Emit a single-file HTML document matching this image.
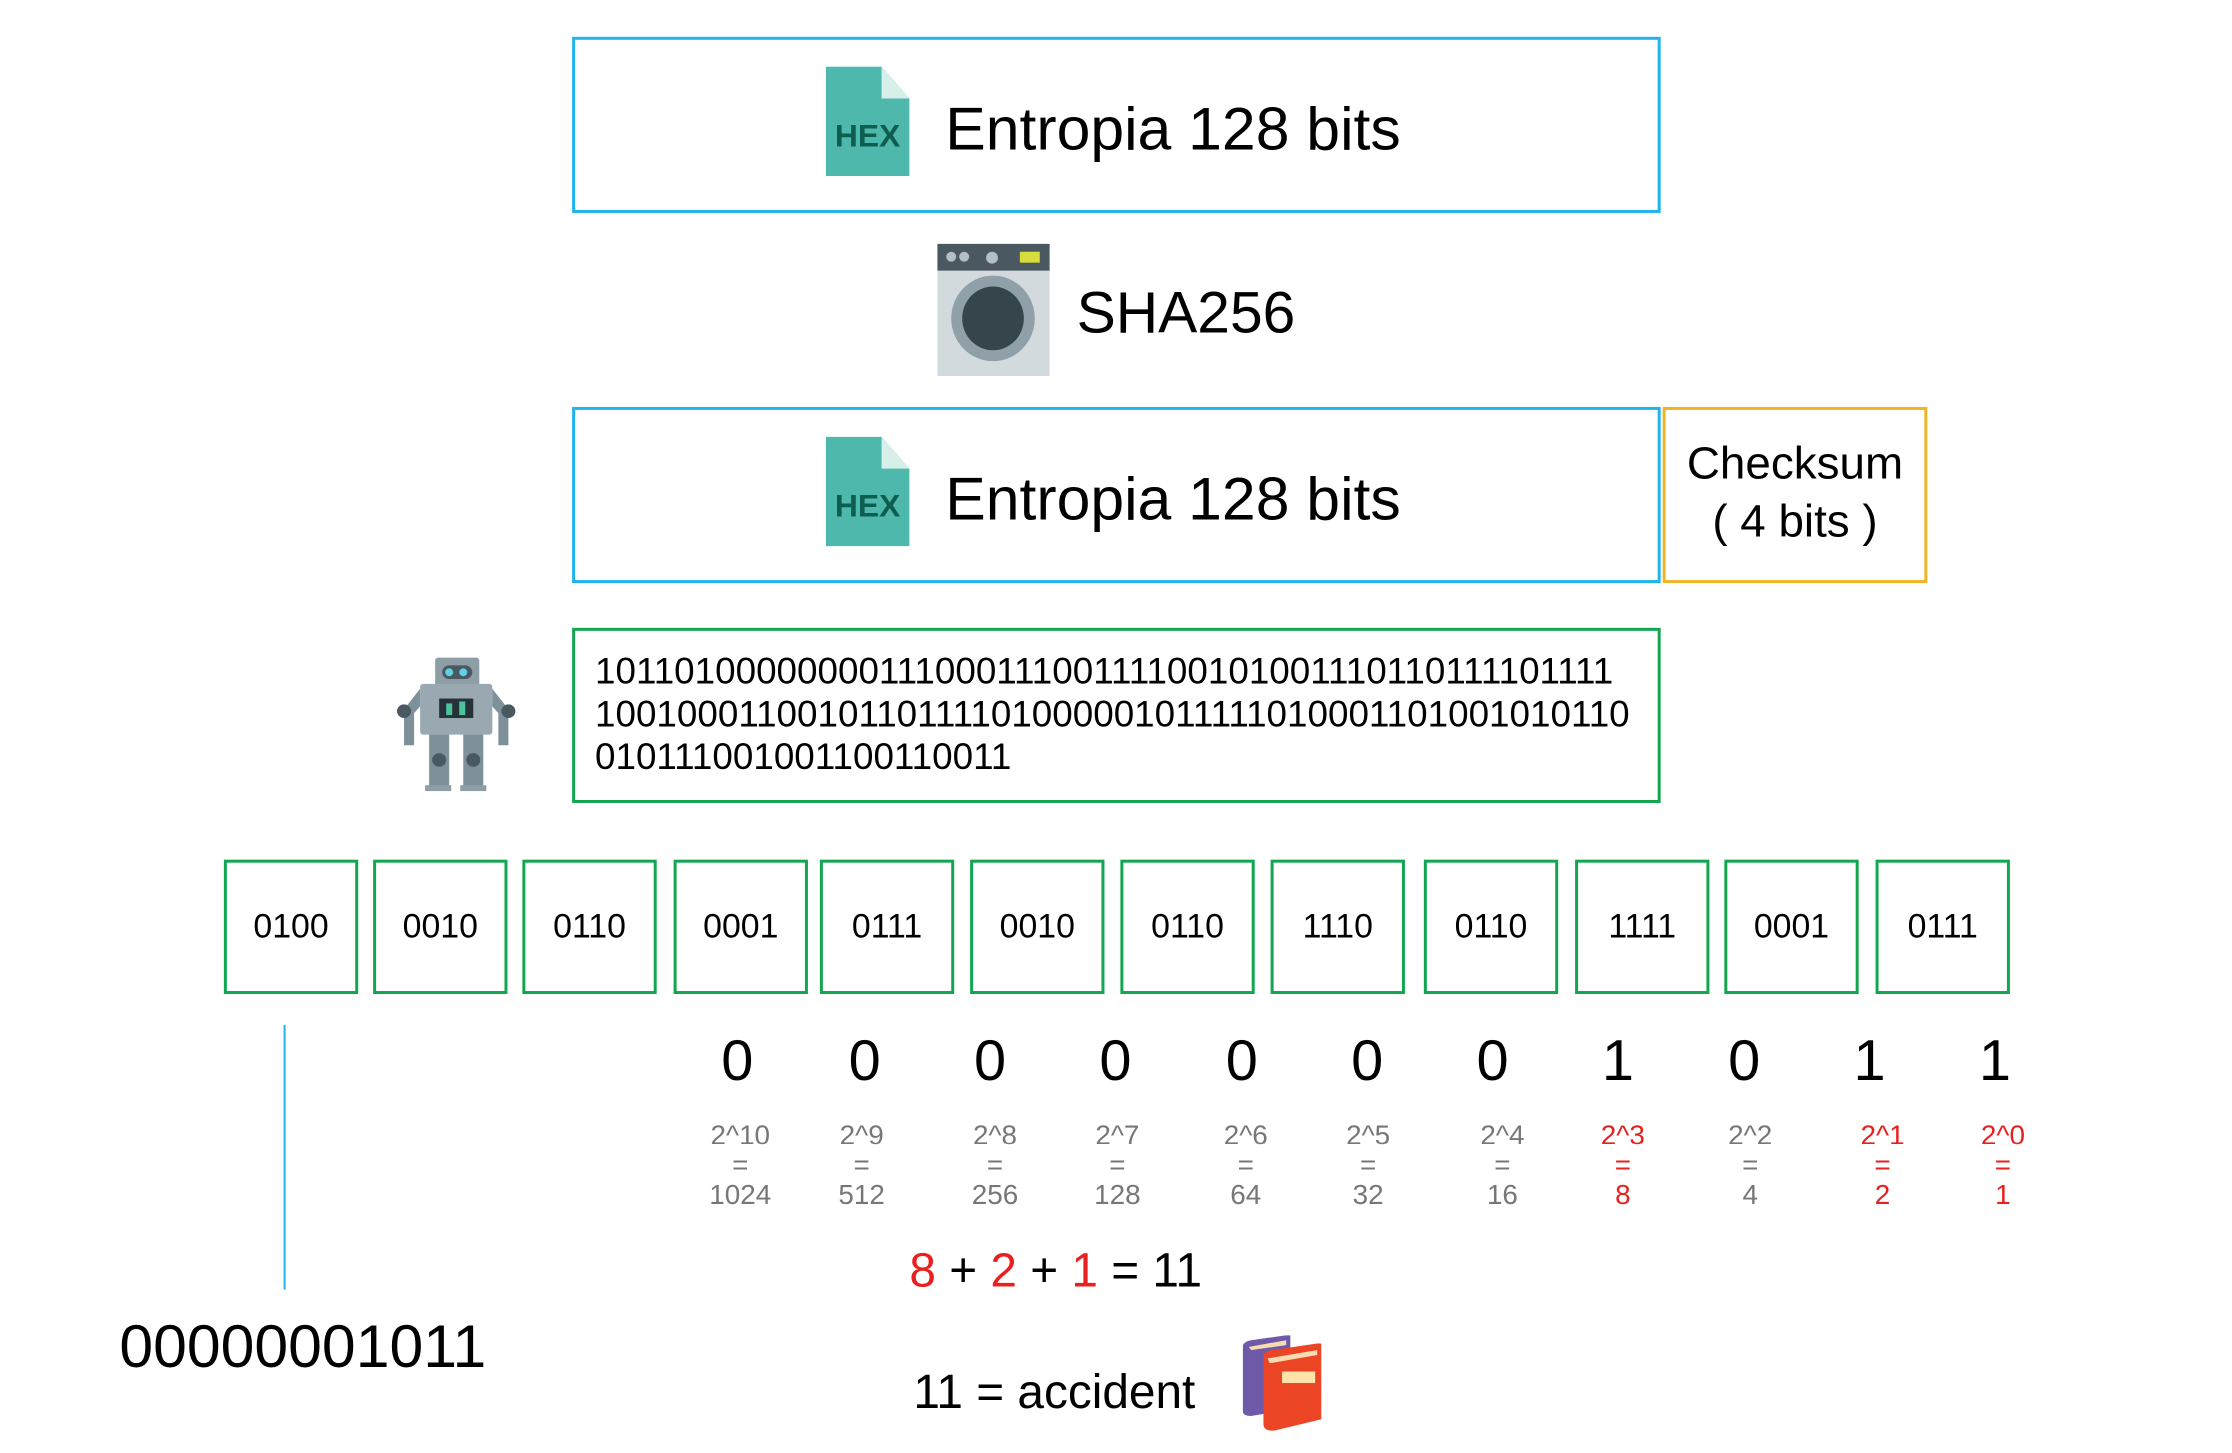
<!DOCTYPE html>
<html><head><meta charset="utf-8"><style>
body{margin:0;width:2232px;height:1453px;background:#fff;position:relative;overflow:hidden;font-family:"Liberation Sans",sans-serif;color:#000}
#w{position:absolute;left:0;top:0;width:2240px;height:1460px;transform:scale(0.995);transform-origin:0 0}
.a{position:absolute}
.box{position:absolute;box-sizing:border-box}
.sb{border:3px solid #1fb4ea;}
.gb{border:3px solid #12a650;}
.c{position:absolute;transform:translate(-50%,-50%);white-space:nowrap}
.nib{position:absolute;top:864px;width:135px;height:135px;box-sizing:border-box;border:3px solid #12a650;display:flex;align-items:center;justify-content:center;font-size:34px}
.p{position:absolute;transform:translateX(-50%);text-align:center;font-size:28px;line-height:30px;color:#777;top:1126px}
.r{color:#e8201e}
</style></head><body><div id="w">
<div class="box sb" style="left:575px;top:37px;width:1094px;height:177px"></div>
<svg class="a" style="left:830px;top:67px" width="84" height="110" viewBox="0 0 84 110"><path d="M0 0H56L84 32V110H0Z" fill="#4db8ab"/><path d="M56 0V32H84Z" fill="#d6efe9"/><text x="42" y="80" text-anchor="middle" font-family="Liberation Sans" font-weight="bold" font-size="32" fill="#0d5e4e">HEX</text></svg>
<div class="a" style="left:950px;top:94px;font-size:61px">Entropia 128 bits</div>

<svg class="a" style="left:942px;top:245px" width="113" height="133" viewBox="0 0 113 133"><rect width="113" height="133" fill="#d3dadd"/><rect width="113" height="27" fill="#4a5862"/><circle cx="14" cy="13" r="5" fill="#b4bec4"/><circle cx="27" cy="13" r="5" fill="#b4bec4"/><circle cx="55" cy="14" r="6" fill="#b4bec4"/><rect x="83" y="8" width="20" height="11" fill="#d7dd3a"/><ellipse cx="56" cy="75" rx="42" ry="43" fill="#8fa0a9"/><ellipse cx="56" cy="75" rx="31" ry="32" fill="#36444c"/></svg>
<div class="a" style="left:1082px;top:280px;font-size:59px">SHA256</div>

<div class="box sb" style="left:575px;top:409px;width:1094px;height:177px"></div>
<svg class="a" style="left:830px;top:439px" width="84" height="110" viewBox="0 0 84 110"><path d="M0 0H56L84 32V110H0Z" fill="#4db8ab"/><path d="M56 0V32H84Z" fill="#d6efe9"/><text x="42" y="80" text-anchor="middle" font-family="Liberation Sans" font-weight="bold" font-size="32" fill="#0d5e4e">HEX</text></svg>
<div class="a" style="left:950px;top:466px;font-size:61px">Entropia 128 bits</div>
<div class="box" style="left:1671px;top:409px;width:266px;height:177px;border:3px solid #f0b323"></div>
<div class="a" style="left:1671px;top:436px;width:266px;text-align:center;font-size:46px;line-height:58px">Checksum<br>( 4 bits )</div>

<svg class="a" style="left:396px;top:658px" width="123" height="139" viewBox="14 12 122 142" preserveAspectRatio="none"><rect x="55" y="15" width="44" height="30" rx="3" fill="#8d9ea7"/><rect x="62" y="23" width="30" height="14" rx="7" fill="#4a5862"/><circle cx="69" cy="30" r="4" fill="#5fd0e6"/><circle cx="83" cy="30" r="4" fill="#5fd0e6"/><rect x="40" y="42" width="72" height="52" rx="3" fill="#9aa9b1"/><rect x="59" y="57" width="34" height="20" fill="#263238"/><rect x="66" y="62" width="6" height="12" fill="#4ec29a"/><rect x="79" y="60" width="6" height="14" fill="#4ec29a"/><path d="M40 47L24 68V105H34V72L40 65Z" fill="#7e909a"/><path d="M112 47L128 68V105H118V72L112 65Z" fill="#7e909a"/><circle cx="24" cy="70" r="7" fill="#4a5862"/><circle cx="128" cy="70" r="7" fill="#4a5862"/><rect x="49" y="94" width="20" height="55" fill="#7e909a"/><rect x="83" y="94" width="20" height="55" fill="#7e909a"/><circle cx="59" cy="120" r="7" fill="#4a5862"/><circle cx="93" cy="120" r="7" fill="#4a5862"/><rect x="45" y="146" width="26" height="6" fill="#8d9ea7"/><rect x="80" y="146" width="26" height="6" fill="#8d9ea7"/></svg>
<div class="box gb" style="left:575px;top:631px;width:1094px;height:176px"></div>
<div class="a" style="left:598px;top:653px;font-size:37px;line-height:43px">1011010000000011100011100111100101001110110111101111<br>1001000110010110111101000001011111010001101001010110<br>0101110010011001100​11</div>

<div class="nib" style="left:225px">0100</div>
<div class="nib" style="left:375px">0010</div>
<div class="nib" style="left:525px">0110</div>
<div class="nib" style="left:677px">0001</div>
<div class="nib" style="left:824px">0111</div>
<div class="nib" style="left:975px">0010</div>
<div class="nib" style="left:1126px">0110</div>
<div class="nib" style="left:1277px">1110</div>
<div class="nib" style="left:1431px">0110</div>
<div class="nib" style="left:1583px">1111</div>
<div class="nib" style="left:1733px">0001</div>
<div class="nib" style="left:1885px">0111</div>

<div class="a" style="left:285px;top:1030px;width:2px;height:266px;background:#1fb4ea"></div>

<div class="c" style="left:741px;top:1066px;font-size:58px">0</div>
<div class="c" style="left:869px;top:1066px;font-size:58px">0</div>
<div class="c" style="left:995px;top:1066px;font-size:58px">0</div>
<div class="c" style="left:1121px;top:1066px;font-size:58px">0</div>
<div class="c" style="left:1248px;top:1066px;font-size:58px">0</div>
<div class="c" style="left:1374px;top:1066px;font-size:58px">0</div>
<div class="c" style="left:1500px;top:1066px;font-size:58px">0</div>
<div class="c" style="left:1626px;top:1066px;font-size:58px">1</div>
<div class="c" style="left:1753px;top:1066px;font-size:58px">0</div>
<div class="c" style="left:1879px;top:1066px;font-size:58px">1</div>
<div class="c" style="left:2005px;top:1066px;font-size:58px">1</div>

<div class="p" style="left:744px">2^10<br>=<br>1024</div>
<div class="p" style="left:866px">2^9<br>=<br>512</div>
<div class="p" style="left:1000px">2^8<br>=<br>256</div>
<div class="p" style="left:1123px">2^7<br>=<br>128</div>
<div class="p" style="left:1252px">2^6<br>=<br>64</div>
<div class="p" style="left:1375px">2^5<br>=<br>32</div>
<div class="p" style="left:1510px">2^4<br>=<br>16</div>
<div class="p r" style="left:1631px">2^3<br>=<br>8</div>
<div class="p" style="left:1759px">2^2<br>=<br>4</div>
<div class="p r" style="left:1892px">2^1<br>=<br>2</div>
<div class="p r" style="left:2013px">2^0<br>=<br>1</div>

<div class="a" style="left:914px;top:1250px;font-size:48px"><span class="r">8</span> + <span class="r">2</span> + <span class="r">1</span> = 11</div>
<div class="a" style="left:120px;top:1318px;font-size:61px">00000001011</div>
<div class="a" style="left:918px;top:1372px;font-size:48px">11 = accident</div>

<svg class="a" style="left:1249px;top:1342px" width="79" height="96" viewBox="14 2 76 116" preserveAspectRatio="none"><path d="M14 16Q14 10 22 8L56 2H60V92L22 100Q14 100 14 94Z" fill="#6e5aa8"/><path d="M20 16L56 8V14L22 20Z" fill="#f6dcb0"/><path d="M34 28Q34 22 42 20L86 12H90V104L44 118Q34 118 34 110Z" fill="#ec4525"/><path d="M38 30L86 20V26L40 36Z" fill="#f6dcb0"/><rect x="52" y="46" width="32" height="14" fill="#fde3a7"/></svg>
</div></body></html>
